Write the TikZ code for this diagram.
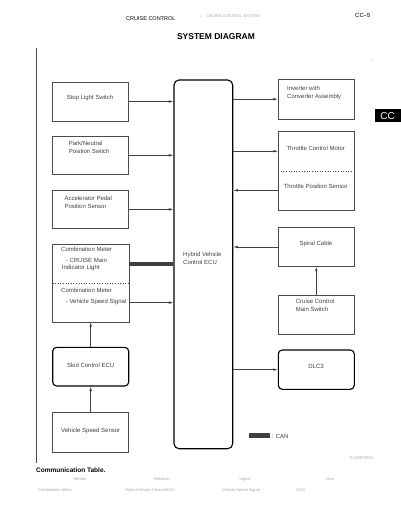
\documentclass[tikz,border=0pt]{standalone}
\usepackage{fontspec}
\setmainfont{Liberation Sans}
\usetikzlibrary{arrows.meta}
\tikzset{
  box/.style={draw=black!70, line width=0.8pt, inner sep=0pt, minimum width=76pt},
  half/.style={inner sep=0pt, minimum width=76pt},
  rbox/.style={draw=black, line width=1.1pt, rounded corners=4pt, inner sep=0pt, minimum width=76pt},
  ecubox/.style={draw=black, line width=1.1pt, rounded corners=5pt, inner sep=0pt},
  lbl/.style={font=\fontsize{6}{8}\selectfont, text=black!75, inner sep=0pt, align=left},
  clbl/.style={font=\fontsize{6}{8}\selectfont, text=black!75, inner sep=0pt},
  arr/.style={draw=black!75, line width=0.6pt, -{Latex[length=4.5pt,width=2.6pt]}},
  canline/.style={draw=black!75, line width=0.9pt,
    preaction={draw=white!85!black, line width=3.2pt},
    preaction={draw=black!75, line width=4.8pt}},
  faint/.style={font=\fontsize{4}{5}\selectfont, text=black!35, inner sep=0pt},
}
\begin{document}
\begin{tikzpicture}[x=1pt,y=-1pt]
\useasboundingbox (0,0) rectangle (400,518);
\fill[white] (0,0) rectangle (400,518);

% header
\node[font=\fontsize{5.5}{6}\selectfont, anchor=west, inner sep=0pt] (hdr) at (126,19) {CRUISE CONTROL};
\node[faint, anchor=west] (hdr2) at (200,16) {--\quad CRUISE CONTROL SYSTEM};
\node[font=\fontsize{6}{7}\selectfont, anchor=west, inner sep=0pt] (pg) at (355,15) {CC--5};
\node[font=\bfseries\fontsize{8.5}{10}\selectfont, inner sep=0pt] (title) at (216,37) {SYSTEM DIAGRAM};
\draw[black!70, line width=0.8pt] (36,48) coordinate (vl1) -- (36,463) coordinate (vl2);
\fill[black!60] (372,60) circle (0.5);

% CC tab
\node[fill=black, text=white, font=\fontsize{10}{11}\selectfont, inner sep=0pt,
      minimum width=26pt, minimum height=12.4pt, anchor=north west] (tab) at (374.3,109.3) {CC};

% left column
\node[box, minimum height=39pt] (stop) at (90.7,101.5) {};
\node[box, minimum height=38.7pt] (park) at (90.7,155.35) {};
\node[box, minimum height=38.7pt] (acc) at (90.7,209.35) {};
\node[half, minimum height=38.6pt] (cmb1) at (90.7,264) {};
\node[half, minimum height=38.7pt] (cmb2) at (90.7,302.65) {};
\draw[black!70, line width=0.8pt] (cmb1.north west) rectangle (cmb2.south east);
\draw[black!70, line width=0.6pt, dotted] (cmb1.south west) -- (cmb1.south east);
\node[rbox, minimum height=38.7pt] (skid) at (90.7,366.65) {};
\node[box, minimum height=39.3pt] (vss) at (90.7,432.35) {};

\node[clbl] (tstop) at (90,98) {Stop Light Switch};
\node[lbl, anchor=north west] (tpark) at (68.7,141.2) {Park/Neutral\\Position Switch};
\node[lbl, anchor=north west] (tacc) at (64.3,196.2) {Accelerator Pedal\\Position Sensor};
\node[lbl, anchor=north west] (tcm1) at (61,246.5) {Combination Meter};
\node[lbl, anchor=north west] (tcm2) at (65.7,257.5) {- CRUISE Main};
\node[lbl, anchor=north west] (tcm3) at (61.7,264.8) {Indicator Light};
\node[lbl, anchor=north west] (tcm4) at (61,287.5) {Combination Meter};
\node[lbl, anchor=north west] (tcm5) at (65.7,298.5) {- Vehicle Speed Signal};
\node[clbl] (tskid) at (90.7,365) {Skid Control ECU};
\node[clbl] (tvss) at (90.7,430.7) {Vehicle Speed Sensor};

% ECU
\node[ecubox, minimum width=58.7pt, minimum height=368.7pt] (ecu) at (203.35,264.35) {};
\node[lbl, anchor=north west] (tecu) at (183,251.8) {Hybrid Vehicle\\Control ECU};

% right column
\node[box, minimum height=39.7pt] (inv) at (316.3,99.15) {};
\node[half, minimum height=39pt] (tcm) at (316.3,151.2) {};
\node[half, minimum height=39.3pt] (tps) at (316.3,190.35) {};
\draw[black!70, line width=0.8pt] (tcm.north west) rectangle (tps.south east);
\draw[black!70, line width=0.6pt, dotted] (tcm.south west) -- (tcm.south east);
\node[box, minimum height=38.6pt] (spiral) at (316.3,247) {};
\node[box, minimum height=39pt] (cruise) at (316.3,314.5) {};
\node[rbox, minimum height=39.3pt] (dlc) at (316.3,369.65) {};

\node[lbl, anchor=north west] (tinv) at (287,85.8) {Inverter with\\Converter Assembly};
\node[clbl] (ttcm) at (315.7,148.7) {Throttle Control Motor};
\node[clbl] (ttps) at (315.7,186.7) {Throttle Position Sensor};
\node[clbl] (tspiral) at (316,244) {Spiral Cable};
\node[lbl, anchor=north west] (tcruise) at (295.7,298.5) {Cruise Control\\Main Switch};
\node[clbl] (tdlc) at (316,366.7) {DLC3};

% connectors left
\draw[arr] (stop.east) -- (stop.east -| ecu.west);
\draw[arr] (park.east) -- (park.east -| ecu.west);
\draw[arr] (acc.east) -- (acc.east -| ecu.west);
\draw[arr] (cmb2.east) -- (cmb2.east -| ecu.west);
\draw[canline] (cmb1.east) -- (cmb1.east -| ecu.west);
\draw[arr] (vss.north) -- (skid.south);
\draw[arr] (skid.north) -- (cmb2.south);

% connectors right
\draw[arr] (ecu.east |- inv.west) -- (inv.west);
\draw[arr] (ecu.east |- tcm.west) -- (tcm.west);
\draw[arr] (tps.west) -- (tps.west -| ecu.east);
\draw[arr] (spiral.west) -- (spiral.west -| ecu.east);
\draw[arr] (cruise.north) -- (spiral.south);
\draw[arr] (ecu.east |- dlc.west) -- (dlc.west);

% legend
\coordinate (lg1) at (249.3,435.7);
\coordinate (lg2) at (270,435.7);
\draw[canline] (lg1) -- (lg2);
\node[clbl, anchor=west] (tcan) at (271.7,436) {: CAN};
\node[faint, anchor=west] (fig) at (350,458) {E129973E01};

% communication table
\node[font=\bfseries\fontsize{6.5}{7}\selectfont, anchor=west, inner sep=0pt] (ctab) at (36,470) {Communication Table.};
\node[faint] (h1) at (80,479) {Sender};
\node[faint] (h2) at (162,479) {Receiver};
\node[faint] (h3) at (245,479) {Signal};
\node[faint] (h4) at (330,479) {Line};
\node[faint, anchor=west] (r1) at (38,490) {Combination Meter};
\node[faint, anchor=west] (r2) at (125,490) {Hybrid Vehicle Control ECU};
\node[faint, anchor=west] (r3) at (222,490) {Vehicle Speed Signal};
\node[faint, anchor=west] (r4) at (296,490) {CAN};
\end{tikzpicture}
\end{document}
